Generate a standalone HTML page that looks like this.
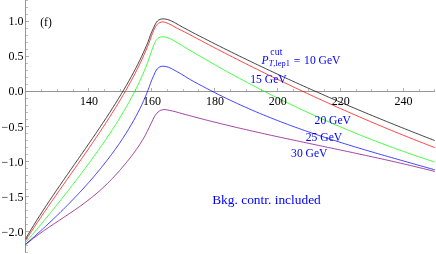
<!DOCTYPE html>
<html><head><meta charset="utf-8"><title>plot</title>
<style>
html,body{margin:0;padding:0;background:#fff;}
body{width:436px;height:254px;overflow:hidden;font-family:"Liberation Serif",serif;}
svg{display:block;will-change:transform;}
</style></head><body>
<svg width="436" height="254" viewBox="0 0 436 254">
<rect width="436" height="254" fill="#fff"/>
<g stroke-width="1" shape-rendering="crispEdges" fill="none">
<line x1="25.5" y1="0" x2="25.5" y2="253" stroke="#969696"/>
<line x1="25" y1="91.5" x2="435" y2="91.5" stroke="#969696"/>
<line x1="41.5" y1="91" x2="41.5" y2="89.0" stroke="#bcbcbc"/>
<line x1="57.5" y1="91" x2="57.5" y2="89.0" stroke="#bcbcbc"/>
<line x1="73.5" y1="91" x2="73.5" y2="89.0" stroke="#bcbcbc"/>
<line x1="88.5" y1="91" x2="88.5" y2="88.0" stroke="#b0b0b0"/>
<line x1="104.5" y1="91" x2="104.5" y2="89.0" stroke="#bcbcbc"/>
<line x1="120.5" y1="91" x2="120.5" y2="89.0" stroke="#bcbcbc"/>
<line x1="135.5" y1="91" x2="135.5" y2="89.0" stroke="#bcbcbc"/>
<line x1="151.5" y1="91" x2="151.5" y2="88.0" stroke="#b0b0b0"/>
<line x1="167.5" y1="91" x2="167.5" y2="89.0" stroke="#bcbcbc"/>
<line x1="183.5" y1="91" x2="183.5" y2="89.0" stroke="#bcbcbc"/>
<line x1="198.5" y1="91" x2="198.5" y2="89.0" stroke="#bcbcbc"/>
<line x1="214.5" y1="91" x2="214.5" y2="88.0" stroke="#b0b0b0"/>
<line x1="230.5" y1="91" x2="230.5" y2="89.0" stroke="#bcbcbc"/>
<line x1="246.5" y1="91" x2="246.5" y2="89.0" stroke="#bcbcbc"/>
<line x1="261.5" y1="91" x2="261.5" y2="89.0" stroke="#bcbcbc"/>
<line x1="277.5" y1="91" x2="277.5" y2="88.0" stroke="#b0b0b0"/>
<line x1="293.5" y1="91" x2="293.5" y2="89.0" stroke="#bcbcbc"/>
<line x1="308.5" y1="91" x2="308.5" y2="89.0" stroke="#bcbcbc"/>
<line x1="324.5" y1="91" x2="324.5" y2="89.0" stroke="#bcbcbc"/>
<line x1="340.5" y1="91" x2="340.5" y2="88.0" stroke="#b0b0b0"/>
<line x1="356.5" y1="91" x2="356.5" y2="89.0" stroke="#bcbcbc"/>
<line x1="371.5" y1="91" x2="371.5" y2="89.0" stroke="#bcbcbc"/>
<line x1="387.5" y1="91" x2="387.5" y2="89.0" stroke="#bcbcbc"/>
<line x1="403.5" y1="91" x2="403.5" y2="88.0" stroke="#b0b0b0"/>
<line x1="419.5" y1="91" x2="419.5" y2="89.0" stroke="#bcbcbc"/>
<line x1="434.5" y1="91" x2="434.5" y2="89.0" stroke="#bcbcbc"/>
<line x1="26" y1="252.5" x2="28.0" y2="252.5" stroke="#bcbcbc"/>
<line x1="26" y1="245.5" x2="28.0" y2="245.5" stroke="#bcbcbc"/>
<line x1="26" y1="238.5" x2="28.0" y2="238.5" stroke="#bcbcbc"/>
<line x1="26" y1="231.5" x2="29.0" y2="231.5" stroke="#b0b0b0"/>
<line x1="26" y1="224.5" x2="28.0" y2="224.5" stroke="#bcbcbc"/>
<line x1="26" y1="217.5" x2="28.0" y2="217.5" stroke="#bcbcbc"/>
<line x1="26" y1="210.5" x2="28.0" y2="210.5" stroke="#bcbcbc"/>
<line x1="26" y1="203.5" x2="28.0" y2="203.5" stroke="#bcbcbc"/>
<line x1="26" y1="196.5" x2="29.0" y2="196.5" stroke="#b0b0b0"/>
<line x1="26" y1="189.5" x2="28.0" y2="189.5" stroke="#bcbcbc"/>
<line x1="26" y1="182.5" x2="28.0" y2="182.5" stroke="#bcbcbc"/>
<line x1="26" y1="175.5" x2="28.0" y2="175.5" stroke="#bcbcbc"/>
<line x1="26" y1="168.5" x2="28.0" y2="168.5" stroke="#bcbcbc"/>
<line x1="26" y1="161.5" x2="29.0" y2="161.5" stroke="#b0b0b0"/>
<line x1="26" y1="154.5" x2="28.0" y2="154.5" stroke="#bcbcbc"/>
<line x1="26" y1="147.5" x2="28.0" y2="147.5" stroke="#bcbcbc"/>
<line x1="26" y1="140.5" x2="28.0" y2="140.5" stroke="#bcbcbc"/>
<line x1="26" y1="133.5" x2="28.0" y2="133.5" stroke="#bcbcbc"/>
<line x1="26" y1="126.5" x2="29.0" y2="126.5" stroke="#b0b0b0"/>
<line x1="26" y1="119.5" x2="28.0" y2="119.5" stroke="#bcbcbc"/>
<line x1="26" y1="112.5" x2="28.0" y2="112.5" stroke="#bcbcbc"/>
<line x1="26" y1="105.5" x2="28.0" y2="105.5" stroke="#bcbcbc"/>
<line x1="26" y1="98.5" x2="28.0" y2="98.5" stroke="#bcbcbc"/>
<line x1="26" y1="84.5" x2="28.0" y2="84.5" stroke="#bcbcbc"/>
<line x1="26" y1="77.5" x2="28.0" y2="77.5" stroke="#bcbcbc"/>
<line x1="26" y1="70.5" x2="28.0" y2="70.5" stroke="#bcbcbc"/>
<line x1="26" y1="63.5" x2="28.0" y2="63.5" stroke="#bcbcbc"/>
<line x1="26" y1="56.5" x2="29.0" y2="56.5" stroke="#b0b0b0"/>
<line x1="26" y1="49.5" x2="28.0" y2="49.5" stroke="#bcbcbc"/>
<line x1="26" y1="42.5" x2="28.0" y2="42.5" stroke="#bcbcbc"/>
<line x1="26" y1="35.5" x2="28.0" y2="35.5" stroke="#bcbcbc"/>
<line x1="26" y1="28.5" x2="28.0" y2="28.5" stroke="#bcbcbc"/>
<line x1="26" y1="21.5" x2="29.0" y2="21.5" stroke="#b0b0b0"/>
<line x1="26" y1="14.5" x2="28.0" y2="14.5" stroke="#bcbcbc"/>
<line x1="26" y1="7.5" x2="28.0" y2="7.5" stroke="#bcbcbc"/>
<line x1="26" y1="0.5" x2="28.0" y2="0.5" stroke="#bcbcbc"/>
</g>
<path d="M25.60,244.70 L26.73,243.72 L27.88,242.75 L29.04,241.79 L30.20,240.85 L31.37,239.91 L32.55,238.98 L33.74,238.07 L34.93,237.16 L36.13,236.26 L37.34,235.37 L38.55,234.49 L39.77,233.61 L40.99,232.74 L42.22,231.87 L43.45,231.01 L44.68,230.16 L45.92,229.31 L47.15,228.46 L48.40,227.62 L49.64,226.78 L50.88,225.94 L52.13,225.11 L53.38,224.27 L54.62,223.44 L55.87,222.61 L57.12,221.78 L58.37,220.95 L59.62,220.13 L60.88,219.30 L62.13,218.47 L63.38,217.64 L64.63,216.81 L65.87,215.98 L67.12,215.15 L68.37,214.32 L69.61,213.48 L70.86,212.64 L72.10,211.80 L73.34,210.95 L74.58,210.10 L75.81,209.25 L77.04,208.39 L78.27,207.53 L79.49,206.66 L80.71,205.79 L81.93,204.91 L83.14,204.02 L84.34,203.13 L85.54,202.23 L86.74,201.32 L87.93,200.41 L89.11,199.49 L90.29,198.56 L91.46,197.63 L92.63,196.68 L93.79,195.73 L94.95,194.78 L96.09,193.81 L97.24,192.84 L98.37,191.86 L99.50,190.87 L100.62,189.87 L101.73,188.87 L102.84,187.85 L103.94,186.83 L105.03,185.80 L106.12,184.77 L107.19,183.72 L108.26,182.67 L109.32,181.61 L110.38,180.54 L111.42,179.47 L112.46,178.39 L113.50,177.30 L114.52,176.20 L115.54,175.10 L116.55,173.99 L117.56,172.88 L118.56,171.76 L119.55,170.63 L120.53,169.50 L121.51,168.37 L122.49,167.23 L123.46,166.08 L124.42,164.93 L125.38,163.78 L126.33,162.62 L127.28,161.45 L128.22,160.29 L129.15,159.11 L130.08,157.93 L131.00,156.75 L131.91,155.56 L132.81,154.36 L133.71,153.16 L134.60,151.95 L135.48,150.73 L136.34,149.51 L137.20,148.28 L138.05,147.04 L138.89,145.80 L139.71,144.54 L140.53,143.28 L141.33,142.02 L142.12,140.74 L142.89,139.45 L143.65,138.16 L144.39,136.85 L145.12,135.54 L145.83,134.22 L146.52,132.89 L147.19,131.55 L147.85,130.20 L148.49,128.84 L149.13,127.49 L149.78,126.14 L150.44,124.79 L151.10,123.44 L151.76,122.09 L152.39,120.73 L153.03,119.37 L153.70,118.03 L154.42,116.71 L155.21,115.44 L156.08,114.22 L157.05,113.07 L158.12,112.00 L159.31,111.07 L160.62,110.35 L162.06,109.88 L163.56,109.64 L165.07,109.61 L166.56,109.78 L168.04,110.05 L169.51,110.38 L170.98,110.69 L172.44,111.00 L173.91,111.33 L175.36,111.70 L176.80,112.11 L178.24,112.54 L179.68,112.96 L181.13,113.36 L182.57,113.76 L184.02,114.15 L185.47,114.54 L186.92,114.92 L188.37,115.31 L189.82,115.70 L191.27,116.08 L192.71,116.47 L194.16,116.86 L195.61,117.25 L197.06,117.63 L198.51,118.02 L199.96,118.40 L201.41,118.78 L202.86,119.16 L204.32,119.54 L205.77,119.91 L207.22,120.28 L208.68,120.66 L210.13,121.02 L211.58,121.39 L213.04,121.76 L214.49,122.12 L215.95,122.48 L217.41,122.84 L218.86,123.20 L220.32,123.56 L221.78,123.92 L223.23,124.27 L224.69,124.63 L226.15,124.98 L227.61,125.33 L229.07,125.68 L230.52,126.03 L231.98,126.38 L233.44,126.73 L234.90,127.07 L236.36,127.42 L237.82,127.76 L239.28,128.10 L240.74,128.44 L242.20,128.78 L243.67,129.12 L245.13,129.46 L246.59,129.79 L248.05,130.13 L249.51,130.46 L250.98,130.80 L252.44,131.13 L253.90,131.46 L255.36,131.79 L256.83,132.12 L258.29,132.45 L259.76,132.78 L261.22,133.10 L262.68,133.43 L264.15,133.75 L265.61,134.08 L267.08,134.40 L268.54,134.72 L270.01,135.05 L271.47,135.37 L272.94,135.69 L274.40,136.01 L275.87,136.33 L277.33,136.65 L278.80,136.96 L280.27,137.28 L281.73,137.60 L283.20,137.91 L284.67,138.23 L286.13,138.54 L287.60,138.86 L289.07,139.17 L290.53,139.49 L292.00,139.80 L293.47,140.11 L294.93,140.43 L296.40,140.74 L297.87,141.05 L299.34,141.36 L300.80,141.67 L302.27,141.98 L303.74,142.29 L305.21,142.60 L306.67,142.91 L308.14,143.22 L309.61,143.53 L311.08,143.84 L312.54,144.15 L314.01,144.46 L315.48,144.77 L316.95,145.08 L318.42,145.38 L319.88,145.69 L321.35,146.00 L322.82,146.31 L324.29,146.62 L325.76,146.93 L327.22,147.24 L328.69,147.54 L330.16,147.85 L331.63,148.16 L333.09,148.47 L334.56,148.78 L336.03,149.09 L337.50,149.40 L338.97,149.71 L340.43,150.02 L341.90,150.33 L343.37,150.64 L344.84,150.95 L346.30,151.26 L347.77,151.57 L349.24,151.88 L350.70,152.20 L352.17,152.51 L353.64,152.82 L355.11,153.13 L356.57,153.45 L358.04,153.76 L359.51,154.08 L360.97,154.39 L362.44,154.71 L363.90,155.03 L365.37,155.34 L366.84,155.66 L368.30,155.98 L369.77,156.30 L371.23,156.62 L372.70,156.94 L374.16,157.26 L375.63,157.58 L377.09,157.90 L378.56,158.22 L380.02,158.55 L381.49,158.87 L382.95,159.20 L384.42,159.53 L385.88,159.85 L387.34,160.18 L388.81,160.51 L390.27,160.84 L391.73,161.17 L393.20,161.50 L394.66,161.84 L396.12,162.17 L397.58,162.50 L399.05,162.84 L400.51,163.18 L401.97,163.51 L403.43,163.85 L404.89,164.19 L406.35,164.54 L407.81,164.88 L409.27,165.22 L410.73,165.57 L412.19,165.91 L413.65,166.26 L415.11,166.61 L416.57,166.96 L418.03,167.31 L419.49,167.66 L420.94,168.02 L422.40,168.37 L423.86,168.73 L425.31,169.08 L426.77,169.44 L428.23,169.80 L429.68,170.17 L431.14,170.53 L432.59,170.90 L434.05,171.26 L434.75,171.44" stroke="#800080" stroke-width="0.75" fill="none" stroke-linejoin="round"/>
<path d="M25.61,244.20 L26.75,243.22 L27.88,242.23 L29.01,241.24 L30.14,240.26 L31.26,239.26 L32.39,238.27 L33.51,237.28 L34.63,236.28 L35.75,235.28 L36.86,234.28 L37.98,233.28 L39.09,232.27 L40.20,231.26 L41.31,230.25 L42.42,229.24 L43.53,228.23 L44.63,227.21 L45.73,226.20 L46.83,225.18 L47.93,224.15 L49.03,223.13 L50.12,222.10 L51.21,221.07 L52.30,220.04 L53.39,219.01 L54.47,217.97 L55.55,216.93 L56.63,215.89 L57.71,214.85 L58.79,213.80 L59.86,212.75 L60.93,211.70 L62.00,210.65 L63.07,209.60 L64.13,208.54 L65.19,207.48 L66.25,206.42 L67.30,205.35 L68.36,204.28 L69.41,203.21 L70.46,202.14 L71.50,201.06 L72.55,199.98 L73.58,198.90 L74.62,197.82 L75.66,196.73 L76.69,195.64 L77.72,194.55 L78.74,193.46 L79.76,192.36 L80.78,191.26 L81.80,190.16 L82.81,189.05 L83.82,187.94 L84.83,186.83 L85.83,185.71 L86.83,184.60 L87.83,183.48 L88.83,182.35 L89.82,181.23 L90.80,180.10 L91.79,178.96 L92.77,177.83 L93.74,176.69 L94.71,175.55 L95.68,174.40 L96.65,173.25 L97.61,172.10 L98.57,170.95 L99.52,169.79 L100.47,168.63 L101.41,167.46 L102.36,166.29 L103.29,165.12 L104.23,163.95 L105.15,162.77 L106.08,161.59 L107.00,160.40 L107.91,159.21 L108.82,158.02 L109.73,156.83 L110.63,155.63 L111.53,154.43 L112.42,153.22 L113.31,152.01 L114.19,150.80 L115.06,149.58 L115.94,148.36 L116.80,147.13 L117.66,145.91 L118.52,144.67 L119.37,143.44 L120.22,142.20 L121.05,140.96 L121.89,139.71 L122.72,138.46 L123.54,137.20 L124.35,135.94 L125.16,134.68 L125.97,133.41 L126.76,132.14 L127.56,130.87 L128.34,129.59 L129.12,128.31 L129.89,127.02 L130.65,125.73 L131.41,124.44 L132.16,123.14 L132.91,121.84 L133.64,120.53 L134.37,119.22 L135.09,117.90 L135.81,116.58 L136.51,115.26 L137.21,113.93 L137.90,112.60 L138.59,111.27 L139.26,109.93 L139.93,108.58 L140.59,107.23 L141.24,105.88 L141.88,104.53 L142.51,103.17 L143.13,101.80 L143.75,100.43 L144.35,99.06 L144.95,97.68 L145.53,96.30 L146.11,94.92 L146.68,93.53 L147.23,92.13 L147.78,90.74 L148.32,89.34 L148.85,87.93 L149.36,86.52 L149.86,85.11 L150.35,83.69 L150.87,82.28 L151.41,80.88 L151.98,79.50 L152.59,78.14 L153.20,76.77 L153.81,75.39 L154.41,74.01 L155.00,72.61 L155.66,71.26 L156.44,69.99 L157.39,68.84 L158.51,67.82 L159.76,66.97 L161.14,66.39 L162.62,66.20 L164.14,66.28 L165.63,66.50 L167.09,66.82 L168.52,67.27 L169.91,67.84 L171.26,68.49 L172.59,69.20 L173.90,69.93 L175.21,70.65 L176.54,71.36 L177.86,72.08 L179.16,72.81 L180.46,73.56 L181.74,74.34 L183.01,75.14 L184.28,75.93 L185.55,76.73 L186.83,77.52 L188.11,78.30 L189.40,79.07 L190.70,79.82 L192.00,80.57 L193.31,81.30 L194.62,82.02 L195.94,82.74 L197.26,83.46 L198.58,84.16 L199.91,84.87 L201.24,85.57 L202.56,86.26 L203.89,86.96 L205.22,87.66 L206.55,88.36 L207.88,89.05 L209.21,89.75 L210.54,90.44 L211.87,91.13 L213.21,91.82 L214.54,92.50 L215.88,93.18 L217.21,93.86 L218.55,94.54 L219.89,95.21 L221.24,95.87 L222.58,96.54 L223.93,97.20 L225.28,97.85 L226.63,98.51 L227.98,99.15 L229.34,99.80 L230.69,100.44 L232.05,101.08 L233.41,101.72 L234.77,102.35 L236.13,102.98 L237.49,103.61 L238.85,104.23 L240.22,104.86 L241.59,105.47 L242.95,106.09 L244.32,106.70 L245.69,107.31 L247.06,107.92 L248.44,108.52 L249.81,109.13 L251.19,109.72 L252.56,110.32 L253.94,110.91 L255.32,111.50 L256.70,112.09 L258.08,112.67 L259.47,113.25 L260.85,113.83 L262.24,114.40 L263.62,114.97 L265.01,115.54 L266.40,116.11 L267.79,116.67 L269.18,117.23 L270.58,117.79 L271.97,118.35 L273.36,118.90 L274.76,119.45 L276.15,120.00 L277.55,120.54 L278.95,121.09 L280.35,121.63 L281.75,122.16 L283.15,122.70 L284.56,123.23 L285.96,123.76 L287.36,124.28 L288.77,124.81 L290.18,125.33 L291.58,125.85 L292.99,126.37 L294.40,126.88 L295.81,127.39 L297.22,127.90 L298.63,128.41 L300.04,128.92 L301.46,129.42 L302.87,129.92 L304.29,130.42 L305.70,130.92 L307.12,131.41 L308.54,131.90 L309.95,132.39 L311.37,132.88 L312.79,133.36 L314.21,133.85 L315.63,134.33 L317.05,134.81 L318.47,135.28 L319.90,135.76 L321.32,136.23 L322.75,136.71 L324.17,137.17 L325.59,137.64 L327.02,138.11 L328.45,138.57 L329.87,139.03 L331.30,139.49 L332.73,139.95 L334.16,140.41 L335.59,140.87 L337.02,141.32 L338.45,141.77 L339.88,142.22 L341.31,142.67 L342.74,143.12 L344.17,143.56 L345.61,144.01 L347.04,144.45 L348.47,144.89 L349.91,145.33 L351.34,145.77 L352.78,146.21 L354.21,146.64 L355.65,147.08 L357.08,147.51 L358.52,147.94 L359.96,148.37 L361.39,148.80 L362.83,149.23 L364.27,149.66 L365.71,150.09 L367.15,150.51 L368.58,150.94 L370.02,151.36 L371.46,151.78 L372.90,152.20 L374.34,152.62 L375.78,153.04 L377.22,153.46 L378.66,153.88 L380.10,154.30 L381.55,154.71 L382.99,155.13 L384.43,155.54 L385.87,155.96 L387.31,156.37 L388.75,156.79 L390.20,157.20 L391.64,157.61 L393.08,158.02 L394.52,158.43 L395.97,158.84 L397.41,159.25 L398.85,159.66 L400.29,160.07 L401.74,160.48 L403.18,160.89 L404.62,161.30 L406.07,161.71 L407.51,162.12 L408.95,162.52 L410.40,162.93 L411.84,163.34 L413.29,163.75 L414.73,164.15 L416.17,164.56 L417.62,164.97 L419.06,165.38 L420.50,165.78 L421.95,166.19 L423.39,166.60 L424.83,167.01 L426.28,167.42 L427.72,167.82 L429.16,168.23 L430.61,168.64 L432.05,169.05 L433.49,169.46 L434.75,169.82" stroke="#0000ff" stroke-width="0.75" fill="none" stroke-linejoin="round"/>
<path d="M25.69,242.40 L26.67,241.26 L27.64,240.12 L28.62,238.98 L29.59,237.84 L30.57,236.70 L31.54,235.56 L32.51,234.42 L33.48,233.27 L34.45,232.13 L35.42,230.98 L36.38,229.83 L37.35,228.68 L38.31,227.54 L39.28,226.39 L40.24,225.23 L41.20,224.08 L42.16,222.93 L43.12,221.78 L44.07,220.62 L45.03,219.46 L45.98,218.31 L46.94,217.15 L47.89,215.99 L48.84,214.83 L49.79,213.67 L50.74,212.51 L51.68,211.34 L52.63,210.18 L53.58,209.01 L54.52,207.85 L55.46,206.68 L56.40,205.51 L57.34,204.34 L58.28,203.17 L59.22,202.00 L60.15,200.83 L61.09,199.66 L62.02,198.48 L62.95,197.31 L63.88,196.13 L64.81,194.95 L65.74,193.77 L66.66,192.59 L67.59,191.41 L68.51,190.23 L69.43,189.04 L70.35,187.86 L71.27,186.67 L72.19,185.49 L73.10,184.30 L74.02,183.11 L74.93,181.92 L75.84,180.73 L76.75,179.54 L77.66,178.34 L78.57,177.15 L79.47,175.95 L80.38,174.75 L81.28,173.55 L82.18,172.35 L83.08,171.15 L83.97,169.95 L84.87,168.75 L85.76,167.54 L86.66,166.34 L87.55,165.13 L88.44,163.92 L89.32,162.71 L90.21,161.50 L91.09,160.29 L91.97,159.08 L92.86,157.86 L93.73,156.65 L94.61,155.43 L95.48,154.21 L96.36,152.99 L97.23,151.77 L98.09,150.55 L98.96,149.32 L99.82,148.09 L100.68,146.86 L101.54,145.63 L102.40,144.40 L103.25,143.17 L104.10,141.93 L104.95,140.70 L105.79,139.46 L106.63,138.21 L107.47,136.97 L108.31,135.73 L109.14,134.48 L109.97,133.23 L110.80,131.98 L111.62,130.73 L112.45,129.47 L113.26,128.21 L114.08,126.95 L114.89,125.69 L115.69,124.43 L116.50,123.16 L117.30,121.89 L118.09,120.62 L118.88,119.34 L119.67,118.07 L120.46,116.79 L121.24,115.51 L122.01,114.22 L122.78,112.94 L123.55,111.65 L124.31,110.35 L125.07,109.06 L125.82,107.76 L126.57,106.46 L127.31,105.16 L128.05,103.85 L128.79,102.55 L129.51,101.23 L130.24,99.92 L130.95,98.60 L131.66,97.28 L132.37,95.96 L133.07,94.63 L133.77,93.30 L134.45,91.97 L135.14,90.63 L135.81,89.29 L136.48,87.95 L137.15,86.61 L137.80,85.26 L138.45,83.91 L139.10,82.55 L139.73,81.19 L140.36,79.83 L140.98,78.47 L141.60,77.10 L142.21,75.73 L142.81,74.35 L143.40,72.97 L143.98,71.59 L144.56,70.21 L145.13,68.82 L145.68,67.43 L146.24,66.03 L146.78,64.63 L147.31,63.23 L147.84,61.83 L148.36,60.42 L148.86,59.01 L149.36,57.59 L149.85,56.17 L150.32,54.75 L150.80,53.33 L151.26,51.90 L151.74,50.48 L152.22,49.05 L152.71,47.64 L153.23,46.23 L153.79,44.84 L154.39,43.47 L155.04,42.11 L155.79,40.80 L156.67,39.58 L157.73,38.50 L158.97,37.64 L160.36,37.08 L161.85,36.84 L163.37,36.85 L164.87,37.05 L166.33,37.38 L167.78,37.78 L169.20,38.25 L170.58,38.83 L171.91,39.53 L173.20,40.29 L174.49,41.08 L175.78,41.84 L177.08,42.60 L178.37,43.35 L179.66,44.11 L180.95,44.88 L182.24,45.65 L183.52,46.43 L184.80,47.21 L186.09,47.99 L187.37,48.76 L188.66,49.54 L189.94,50.31 L191.23,51.08 L192.52,51.84 L193.81,52.61 L195.10,53.37 L196.40,54.13 L197.69,54.89 L198.99,55.64 L200.28,56.40 L201.58,57.15 L202.88,57.90 L204.18,58.65 L205.47,59.40 L206.77,60.15 L208.07,60.90 L209.38,61.64 L210.68,62.39 L211.98,63.13 L213.28,63.88 L214.59,64.62 L215.89,65.36 L217.20,66.09 L218.51,66.83 L219.81,67.56 L221.12,68.30 L222.43,69.03 L223.74,69.76 L225.05,70.49 L226.37,71.21 L227.68,71.94 L228.99,72.66 L230.31,73.38 L231.62,74.10 L232.94,74.82 L234.26,75.54 L235.58,76.26 L236.90,76.97 L238.22,77.68 L239.54,78.39 L240.86,79.10 L242.18,79.81 L243.50,80.52 L244.83,81.22 L246.15,81.93 L247.48,82.63 L248.80,83.33 L250.13,84.03 L251.46,84.73 L252.79,85.42 L254.12,86.11 L255.45,86.81 L256.78,87.50 L258.11,88.19 L259.45,88.87 L260.78,89.56 L262.12,90.24 L263.45,90.93 L264.79,91.61 L266.13,92.29 L267.46,92.96 L268.80,93.64 L270.14,94.32 L271.48,94.99 L272.82,95.66 L274.17,96.33 L275.51,97.00 L276.85,97.66 L278.20,98.33 L279.54,98.99 L280.89,99.65 L282.24,100.31 L283.59,100.97 L284.93,101.63 L286.28,102.28 L287.63,102.93 L288.99,103.59 L290.34,104.24 L291.69,104.88 L293.04,105.53 L294.40,106.17 L295.75,106.82 L297.11,107.46 L298.47,108.10 L299.82,108.74 L301.18,109.37 L302.54,110.01 L303.90,110.64 L305.26,111.27 L306.62,111.90 L307.99,112.53 L309.35,113.15 L310.71,113.78 L312.08,114.40 L313.44,115.02 L314.81,115.64 L316.18,116.26 L317.54,116.87 L318.91,117.49 L320.28,118.10 L321.65,118.71 L323.02,119.32 L324.40,119.93 L325.77,120.53 L327.14,121.14 L328.51,121.74 L329.89,122.34 L331.27,122.94 L332.64,123.53 L334.02,124.13 L335.40,124.72 L336.77,125.31 L338.15,125.90 L339.53,126.49 L340.92,127.07 L342.30,127.66 L343.68,128.24 L345.06,128.82 L346.45,129.40 L347.83,129.98 L349.22,130.55 L350.60,131.13 L351.99,131.70 L353.38,132.27 L354.77,132.83 L356.15,133.40 L357.54,133.97 L358.93,134.53 L360.33,135.09 L361.72,135.65 L363.11,136.20 L364.50,136.76 L365.90,137.31 L367.29,137.86 L368.69,138.41 L370.09,138.96 L371.48,139.51 L372.88,140.05 L374.28,140.60 L375.68,141.14 L377.08,141.67 L378.48,142.21 L379.88,142.75 L381.28,143.28 L382.68,143.81 L384.09,144.34 L385.49,144.87 L386.90,145.39 L388.30,145.92 L389.71,146.44 L391.12,146.96 L392.52,147.48 L393.93,148.00 L395.34,148.51 L396.75,149.02 L398.16,149.53 L399.57,150.04 L400.98,150.55 L402.40,151.05 L403.81,151.56 L405.22,152.06 L406.64,152.56 L408.05,153.06 L409.47,153.55 L410.88,154.05 L412.30,154.54 L413.72,155.03 L415.14,155.52 L416.56,156.00 L417.98,156.49 L419.40,156.97 L420.82,157.45 L422.24,157.93 L423.66,158.40 L425.08,158.88 L426.51,159.35 L427.93,159.82 L429.36,160.29 L430.78,160.76 L432.21,161.22 L433.64,161.69 L434.75,162.05" stroke="#00ff00" stroke-width="0.75" fill="none" stroke-linejoin="round"/>
<path d="M25.78,240.20 L26.59,238.94 L27.40,237.67 L28.21,236.41 L29.02,235.15 L29.84,233.89 L30.65,232.63 L31.47,231.38 L32.29,230.12 L33.12,228.87 L33.94,227.62 L34.77,226.36 L35.60,225.11 L36.43,223.87 L37.26,222.62 L38.10,221.37 L38.93,220.13 L39.77,218.88 L40.61,217.64 L41.45,216.40 L42.29,215.15 L43.14,213.91 L43.98,212.67 L44.83,211.44 L45.67,210.20 L46.52,208.96 L47.37,207.72 L48.22,206.49 L49.07,205.25 L49.92,204.02 L50.78,202.78 L51.63,201.55 L52.49,200.32 L53.34,199.09 L54.20,197.86 L55.06,196.62 L55.91,195.39 L56.77,194.16 L57.63,192.93 L58.49,191.70 L59.35,190.48 L60.21,189.25 L61.07,188.02 L61.93,186.79 L62.79,185.56 L63.66,184.33 L64.52,183.11 L65.38,181.88 L66.24,180.65 L67.10,179.42 L67.97,178.20 L68.83,176.97 L69.69,175.74 L70.55,174.52 L71.42,173.29 L72.28,172.06 L73.14,170.83 L74.00,169.60 L74.86,168.38 L75.72,167.15 L76.58,165.92 L77.44,164.69 L78.30,163.46 L79.16,162.23 L80.02,161.00 L80.88,159.77 L81.74,158.54 L82.59,157.31 L83.45,156.08 L84.31,154.85 L85.16,153.61 L86.01,152.38 L86.87,151.15 L87.72,149.91 L88.57,148.68 L89.42,147.44 L90.27,146.20 L91.11,144.96 L91.96,143.73 L92.81,142.49 L93.65,141.25 L94.49,140.01 L95.33,138.76 L96.17,137.52 L97.01,136.28 L97.85,135.03 L98.68,133.79 L99.52,132.54 L100.35,131.29 L101.18,130.04 L102.01,128.79 L102.83,127.54 L103.66,126.29 L104.48,125.03 L105.30,123.78 L106.12,122.52 L106.94,121.26 L107.75,120.00 L108.56,118.74 L109.37,117.48 L110.18,116.21 L110.99,114.95 L111.79,113.68 L112.59,112.41 L113.39,111.14 L114.18,109.87 L114.97,108.60 L115.76,107.32 L116.55,106.04 L117.33,104.76 L118.11,103.48 L118.89,102.20 L119.67,100.92 L120.44,99.63 L121.21,98.34 L121.97,97.05 L122.73,95.76 L123.49,94.46 L124.24,93.17 L124.99,91.87 L125.74,90.57 L126.48,89.26 L127.22,87.96 L127.96,86.65 L128.69,85.34 L129.42,84.03 L130.14,82.71 L130.86,81.40 L131.57,80.08 L132.28,78.76 L132.98,77.43 L133.68,76.11 L134.38,74.78 L135.07,73.44 L135.75,72.11 L136.43,70.77 L137.11,69.43 L137.78,68.09 L138.44,66.75 L139.10,65.40 L139.75,64.05 L140.40,62.69 L141.04,61.34 L141.68,59.98 L142.31,58.62 L142.93,57.25 L143.54,55.88 L144.15,54.51 L144.75,53.14 L145.35,51.76 L145.94,50.38 L146.52,49.00 L147.10,47.62 L147.68,46.23 L148.24,44.84 L148.80,43.45 L149.34,42.05 L149.86,40.64 L150.36,39.23 L150.86,37.81 L151.36,36.40 L151.87,34.99 L152.39,33.59 L152.95,32.19 L153.53,30.81 L154.15,29.44 L154.81,28.09 L155.52,26.76 L156.34,25.50 L157.31,24.35 L158.44,23.36 L159.74,22.58 L161.17,22.07 L162.67,21.89 L164.15,22.08 L165.59,22.52 L167.02,23.03 L168.41,23.58 L169.78,24.19 L171.10,24.88 L172.40,25.64 L173.69,26.41 L175.00,27.15 L176.32,27.85 L177.66,28.53 L179.00,29.20 L180.35,29.86 L181.69,30.53 L183.04,31.19 L184.38,31.86 L185.72,32.53 L187.06,33.21 L188.39,33.90 L189.72,34.59 L191.05,35.29 L192.38,35.99 L193.70,36.69 L195.02,37.40 L196.34,38.11 L197.66,38.83 L198.98,39.54 L200.30,40.25 L201.63,40.96 L202.95,41.67 L204.27,42.37 L205.60,43.08 L206.92,43.78 L208.25,44.47 L209.58,45.17 L210.91,45.86 L212.24,46.56 L213.57,47.25 L214.90,47.94 L216.24,48.63 L217.57,49.32 L218.90,50.00 L220.23,50.69 L221.57,51.38 L222.90,52.07 L224.24,52.75 L225.57,53.44 L226.90,54.12 L228.24,54.81 L229.57,55.49 L230.91,56.18 L232.24,56.86 L233.58,57.54 L234.92,58.22 L236.25,58.90 L237.59,59.58 L238.93,60.26 L240.27,60.94 L241.61,61.61 L242.94,62.29 L244.28,62.96 L245.62,63.64 L246.97,64.31 L248.31,64.98 L249.65,65.65 L250.99,66.32 L252.33,66.99 L253.68,67.66 L255.02,68.33 L256.36,69.00 L257.71,69.66 L259.05,70.33 L260.40,70.99 L261.74,71.65 L263.09,72.32 L264.43,72.98 L265.78,73.64 L267.13,74.30 L268.47,74.96 L269.82,75.62 L271.17,76.27 L272.52,76.93 L273.87,77.59 L275.22,78.24 L276.57,78.90 L277.92,79.55 L279.27,80.20 L280.62,80.85 L281.97,81.50 L283.32,82.15 L284.68,82.80 L286.03,83.45 L287.38,84.09 L288.74,84.74 L290.09,85.38 L291.45,86.03 L292.80,86.67 L294.16,87.31 L295.51,87.95 L296.87,88.59 L298.23,89.23 L299.58,89.87 L300.94,90.51 L302.30,91.14 L303.66,91.78 L305.02,92.41 L306.38,93.05 L307.74,93.68 L309.10,94.31 L310.46,94.94 L311.82,95.57 L313.18,96.20 L314.54,96.83 L315.91,97.46 L317.27,98.08 L318.63,98.71 L320.00,99.33 L321.36,99.96 L322.73,100.58 L324.09,101.20 L325.46,101.82 L326.82,102.44 L328.19,103.06 L329.56,103.68 L330.93,104.29 L332.29,104.91 L333.66,105.52 L335.03,106.14 L336.40,106.75 L337.77,107.36 L339.14,107.97 L340.51,108.58 L341.88,109.19 L343.25,109.80 L344.62,110.40 L346.00,111.01 L347.37,111.61 L348.74,112.22 L350.12,112.82 L351.49,113.42 L352.86,114.02 L354.24,114.62 L355.62,115.22 L356.99,115.82 L358.37,116.41 L359.74,117.01 L361.12,117.60 L362.50,118.20 L363.88,118.79 L365.26,119.38 L366.63,119.97 L368.01,120.56 L369.39,121.15 L370.77,121.74 L372.15,122.32 L373.54,122.91 L374.92,123.49 L376.30,124.08 L377.68,124.66 L379.06,125.24 L380.45,125.82 L381.83,126.40 L383.22,126.97 L384.60,127.55 L385.99,128.13 L387.37,128.70 L388.76,129.28 L390.14,129.85 L391.53,130.42 L392.92,130.99 L394.31,131.56 L395.69,132.13 L397.08,132.69 L398.47,133.26 L399.86,133.83 L401.25,134.39 L402.64,134.95 L404.03,135.51 L405.42,136.07 L406.82,136.63 L408.21,137.19 L409.60,137.75 L410.99,138.31 L412.39,138.86 L413.78,139.41 L415.18,139.97 L416.57,140.52 L417.97,141.07 L419.36,141.62 L420.76,142.17 L422.15,142.71 L423.55,143.26 L424.95,143.81 L426.35,144.35 L427.75,144.89 L429.14,145.43 L430.54,145.97 L431.94,146.51 L433.34,147.05 L434.74,147.59 L434.75,147.59" stroke="#ff0000" stroke-width="0.75" fill="none" stroke-linejoin="round"/>
<path d="M25.74,238.50 L26.50,237.20 L27.26,235.91 L28.02,234.62 L28.79,233.33 L29.56,232.04 L30.33,230.76 L31.11,229.48 L31.89,228.19 L32.67,226.91 L33.46,225.64 L34.25,224.36 L35.04,223.09 L35.83,221.82 L36.63,220.55 L37.43,219.28 L38.23,218.01 L39.04,216.74 L39.85,215.48 L40.66,214.22 L41.47,212.96 L42.28,211.70 L43.10,210.44 L43.92,209.18 L44.74,207.93 L45.56,206.67 L46.39,205.42 L47.22,204.17 L48.04,202.92 L48.87,201.67 L49.71,200.42 L50.54,199.17 L51.38,197.93 L52.21,196.68 L53.05,195.44 L53.89,194.20 L54.73,192.95 L55.57,191.71 L56.42,190.47 L57.26,189.23 L58.11,187.99 L58.95,186.76 L59.80,185.52 L60.65,184.28 L61.50,183.05 L62.35,181.81 L63.20,180.57 L64.05,179.34 L64.90,178.11 L65.76,176.87 L66.61,175.64 L67.47,174.41 L68.32,173.17 L69.18,171.94 L70.03,170.71 L70.89,169.48 L71.74,168.25 L72.60,167.01 L73.46,165.78 L74.31,164.55 L75.17,163.32 L76.03,162.09 L76.88,160.86 L77.74,159.63 L78.60,158.40 L79.45,157.16 L80.31,155.93 L81.17,154.70 L82.02,153.47 L82.88,152.24 L83.73,151.00 L84.59,149.77 L85.44,148.54 L86.29,147.30 L87.15,146.07 L88.00,144.83 L88.85,143.60 L89.70,142.36 L90.55,141.13 L91.40,139.89 L92.25,138.65 L93.09,137.42 L93.94,136.18 L94.78,134.94 L95.63,133.70 L96.47,132.46 L97.31,131.21 L98.15,129.97 L98.99,128.73 L99.82,127.48 L100.66,126.24 L101.49,124.99 L102.33,123.74 L103.16,122.49 L103.99,121.24 L104.81,119.99 L105.64,118.74 L106.46,117.48 L107.28,116.23 L108.10,114.97 L108.92,113.71 L109.73,112.46 L110.55,111.19 L111.36,109.93 L112.16,108.67 L112.97,107.40 L113.77,106.14 L114.57,104.87 L115.37,103.60 L116.17,102.33 L116.96,101.05 L117.75,99.78 L118.54,98.50 L119.32,97.22 L120.10,95.94 L120.88,94.66 L121.65,93.37 L122.42,92.08 L123.19,90.80 L123.95,89.50 L124.71,88.21 L125.47,86.92 L126.22,85.62 L126.97,84.32 L127.72,83.02 L128.46,81.71 L129.19,80.41 L129.93,79.10 L130.65,77.79 L131.38,76.47 L132.10,75.16 L132.81,73.84 L133.52,72.51 L134.23,71.19 L134.93,69.86 L135.62,68.53 L136.31,67.20 L136.99,65.87 L137.67,64.53 L138.35,63.19 L139.01,61.85 L139.68,60.50 L140.33,59.15 L140.98,57.80 L141.63,56.44 L142.26,55.09 L142.89,53.72 L143.51,52.36 L144.12,50.99 L144.73,49.62 L145.34,48.25 L145.94,46.87 L146.54,45.50 L147.14,44.12 L147.71,42.73 L148.26,41.34 L148.77,39.93 L149.25,38.51 L149.73,37.08 L150.22,35.67 L150.75,34.26 L151.31,32.87 L151.91,31.50 L152.53,30.13 L153.16,28.77 L153.79,27.41 L154.41,26.05 L155.06,24.70 L155.78,23.37 L156.60,22.09 L157.56,20.94 L158.73,20.01 L160.10,19.38 L161.57,19.01 L163.07,18.89 L164.57,18.96 L166.05,19.19 L167.51,19.53 L168.95,19.97 L170.35,20.50 L171.72,21.11 L173.06,21.79 L174.39,22.50 L175.70,23.23 L177.00,23.97 L178.30,24.72 L179.61,25.46 L180.91,26.19 L182.23,26.92 L183.54,27.64 L184.86,28.36 L186.18,29.07 L187.50,29.78 L188.83,30.48 L190.15,31.18 L191.48,31.88 L192.81,32.58 L194.14,33.27 L195.47,33.96 L196.81,34.65 L198.14,35.33 L199.47,36.02 L200.81,36.70 L202.14,37.38 L203.48,38.06 L204.82,38.75 L206.15,39.43 L207.49,40.11 L208.83,40.79 L210.16,41.47 L211.50,42.15 L212.84,42.83 L214.17,43.51 L215.51,44.19 L216.85,44.86 L218.19,45.54 L219.53,46.21 L220.87,46.88 L222.21,47.56 L223.56,48.23 L224.90,48.90 L226.24,49.56 L227.58,50.23 L228.93,50.90 L230.27,51.56 L231.62,52.23 L232.96,52.89 L234.31,53.55 L235.66,54.21 L237.00,54.87 L238.35,55.53 L239.70,56.19 L241.05,56.85 L242.39,57.50 L243.74,58.16 L245.09,58.81 L246.44,59.47 L247.79,60.12 L249.15,60.77 L250.50,61.42 L251.85,62.07 L253.20,62.72 L254.55,63.37 L255.91,64.01 L257.26,64.66 L258.62,65.30 L259.97,65.95 L261.33,66.59 L262.68,67.23 L264.04,67.87 L265.40,68.51 L266.75,69.15 L268.11,69.79 L269.47,70.43 L270.83,71.06 L272.18,71.70 L273.54,72.33 L274.90,72.97 L276.26,73.60 L277.62,74.23 L278.99,74.86 L280.35,75.49 L281.71,76.12 L283.07,76.75 L284.43,77.38 L285.80,78.00 L287.16,78.63 L288.52,79.25 L289.89,79.87 L291.25,80.50 L292.62,81.12 L293.98,81.74 L295.35,82.36 L296.72,82.98 L298.08,83.59 L299.45,84.21 L300.82,84.83 L302.19,85.44 L303.56,86.06 L304.92,86.67 L306.29,87.28 L307.66,87.89 L309.03,88.50 L310.40,89.11 L311.77,89.72 L313.15,90.33 L314.52,90.94 L315.89,91.54 L317.26,92.15 L318.63,92.75 L320.01,93.36 L321.38,93.96 L322.76,94.56 L324.13,95.16 L325.50,95.76 L326.88,96.36 L328.25,96.96 L329.63,97.56 L331.01,98.16 L332.38,98.75 L333.76,99.35 L335.14,99.94 L336.51,100.54 L337.89,101.13 L339.27,101.72 L340.65,102.31 L342.03,102.90 L343.41,103.49 L344.79,104.08 L346.17,104.67 L347.55,105.25 L348.93,105.84 L350.31,106.43 L351.69,107.01 L353.07,107.59 L354.46,108.18 L355.84,108.76 L357.22,109.34 L358.60,109.92 L359.99,110.50 L361.37,111.08 L362.76,111.66 L364.14,112.24 L365.52,112.81 L366.91,113.39 L368.30,113.96 L369.68,114.54 L371.07,115.11 L372.45,115.68 L373.84,116.25 L375.23,116.83 L376.61,117.40 L378.00,117.97 L379.39,118.53 L380.78,119.10 L382.17,119.67 L383.56,120.24 L384.94,120.80 L386.33,121.37 L387.72,121.93 L389.11,122.50 L390.50,123.06 L391.89,123.62 L393.29,124.18 L394.68,124.74 L396.07,125.30 L397.46,125.86 L398.85,126.42 L400.24,126.98 L401.64,127.54 L403.03,128.09 L404.42,128.65 L405.82,129.21 L407.21,129.76 L408.60,130.31 L410.00,130.87 L411.39,131.42 L412.79,131.97 L414.18,132.52 L415.58,133.07 L416.97,133.62 L418.37,134.17 L419.77,134.72 L421.16,135.27 L422.56,135.81 L423.96,136.36 L425.35,136.91 L426.75,137.45 L428.15,138.00 L429.55,138.54 L430.95,139.08 L432.34,139.62 L433.74,140.17 L434.75,140.56" stroke="#000000" stroke-width="0.75" fill="none" stroke-linejoin="round"/>
<g font-family="'Liberation Serif', serif" font-size="12px" fill="#000">
<text x="89.1" y="105" text-anchor="middle">140</text>
<text x="152.0" y="105" text-anchor="middle">160</text>
<text x="214.9" y="105" text-anchor="middle">180</text>
<text x="277.8" y="105" text-anchor="middle">200</text>
<text x="340.7" y="105" text-anchor="middle">220</text>
<text x="403.6" y="105" text-anchor="middle">240</text>
<text x="23.4" y="25.0" text-anchor="end">1.0</text>
<text x="23.4" y="60.0" text-anchor="end">0.5</text>
<text x="23.4" y="95.0" text-anchor="end">0.0</text>
<text x="23.4" y="131.0" text-anchor="end">−0.5</text>
<text x="23.4" y="166.0" text-anchor="end">−1.0</text>
<text x="23.4" y="201.0" text-anchor="end">−1.5</text>
<text x="23.4" y="236.0" text-anchor="end">−2.0</text>
<text x="40.2" y="25.6" font-size="11.6px">(f)</text>
</g>
<g font-family="'Liberation Serif', serif" font-size="11.6px" fill="#0000ff">
<text x="261.4" y="63.6" font-style="italic">P</text>
<text x="268.7" y="66.3" font-size="8.4px"><tspan font-style="italic">T</tspan>,lep1</text>
<text x="270.3" y="54.7" font-size="9.5px" letter-spacing="0.2">cut</text>
<text x="293.7" y="65">=</text>
<text x="304.1" y="63.6">10 GeV</text>
<text x="250.3" y="82.6">15 GeV</text>
<text x="314.6" y="123.5">20 GeV</text>
<text x="305.8" y="140.6">25 GeV</text>
<text x="291.1" y="156.9">30 GeV</text>
<text x="212.2" y="204.2" font-size="13.4px">Bkg. contr. included</text>
</g>
</svg>
</body></html>
